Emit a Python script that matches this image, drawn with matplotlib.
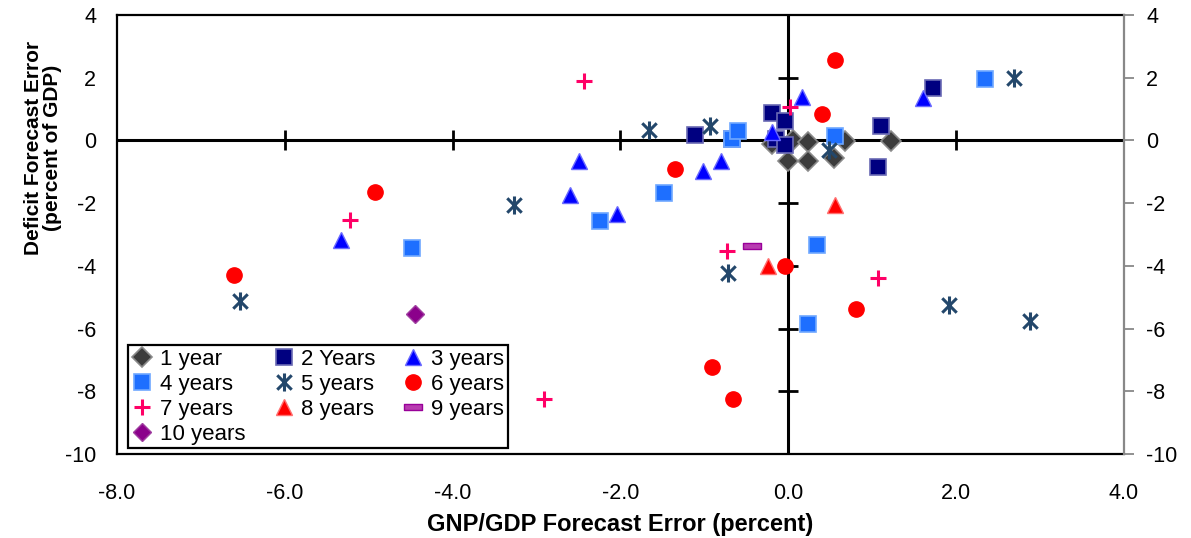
import matplotlib
matplotlib.use('Agg')
import matplotlib.pyplot as plt
from matplotlib.path import Path

plt.rcParams['font.family'] = ['Liberation Sans', 'DejaVu Sans']
plt.rcParams['axes.unicode_minus'] = False

# forecast errors: x = GNP/GDP error (percent), y = deficit error (percent of GDP)
y1_x = [-0.19, 0.06, 0.24, 0.0, 0.23, 0.54, 0.68, 1.22]
y1_y = [-0.10, 0.0, -0.05, -0.64, -0.67, -0.57, -0.03, -0.03]

y2_x = [-1.11, -0.67, -0.19, -0.04, -0.15, -0.04, 1.10, 1.07, 1.73]
y2_y = [0.17, 0.05, 0.86, 0.62, 0.05, -0.16, 0.45, -0.86, 1.66]

y3_x = [-5.33, -2.49, -2.60, -2.04, -1.02, -0.80, -0.19, 0.16, 1.60]
y3_y = [-3.19, -0.64, -1.75, -2.33, -0.99, -0.64, 0.26, 1.40, 1.34]

y4_x = [-4.48, -2.24, -1.48, -0.67, -0.60, 0.56, 0.34, 0.24, 2.35]
y4_y = [-3.44, -2.58, -1.69, 0.06, 0.30, 0.13, -3.34, -5.84, 1.95]

y5_x = [-6.53, -3.27, -1.66, -0.93, -0.72, 0.48, 1.92, 2.88, 2.69]
y5_y = [-5.13, -2.07, 0.32, 0.45, -4.24, -0.32, -5.26, -5.77, 2.00]

y6_x = [-6.60, -4.93, -1.35, 0.56, 0.40, -0.04, 0.81, -0.91, -0.66]
y6_y = [-4.30, -1.63, -0.92, 2.55, 0.83, -3.99, -5.36, -7.24, -8.23]

y7_x = [-2.44, -5.22, 0.02, -0.73, 1.07, -2.91]
y7_y = [1.88, -2.55, 1.08, -3.51, -4.40, -8.23]

y8_x = [-0.24, 0.56]
y8_y = [-4.02, -2.07]

y9_x = [-0.43]
y9_y = [-3.38]

y10_x = [-4.45]
y10_y = [-5.55]

labels = ['1 year', '2 Years', '3 years', '4 years', '5 years',
          '6 years', '7 years', '8 years', '9 years', '10 years']

x_ticks = [-8, -6, -4, -2, 0, 2, 4]
y_ticks = [4, 2, 0, -2, -4, -6, -8, -10]

# custom markers
star = Path([(0, -1), (0, 1), (-0.8, -0.8), (0.8, 0.8), (-0.8, 0.8), (0.8, -0.8)],
            [Path.MOVETO, Path.LINETO, Path.MOVETO, Path.LINETO, Path.MOVETO, Path.LINETO])
bar = Path([(-1, -0.3), (1, -0.3), (1, 0.3), (-1, 0.3), (-1, -0.3)],
           [Path.MOVETO, Path.LINETO, Path.LINETO, Path.LINETO, Path.CLOSEPOLY])

fig = plt.figure(figsize=(11.91, 5.38), dpi=100)
ax = fig.add_axes([0.0982, 0.1561, 0.8455, 0.816])
ax.set_xlim(-8, 4)
ax.set_ylim(-10, 4)

# axes through origin
ax.axhline(0, color='black', lw=2.2, zorder=1)
ax.axvline(0, color='black', lw=2.2, zorder=1)
ax.plot([-6, -4, -2, 2], [0, 0, 0, 0], ls='none', marker='|', ms=14, mew=2, color='black', zorder=1)
ax.plot([0] * 6, [2, -2, -4, -6, -8, 0], ls='none', marker='_', ms=14, mew=2, color='black', zorder=1)

h = []
h.append(ax.plot(y1_x, y1_y, ls='none', marker='D', ms=10, mfc='#3c3c3c', mec='#8a8a8a', mew=1.2)[0])
h.append(ax.plot(y2_x, y2_y, ls='none', marker='s', ms=11, mfc='#000080', mec='#6a6ab4', mew=1.2)[0])
h.append(ax.plot(y3_x, y3_y, ls='none', marker='^', ms=11, mfc='#0000ff', mec='#6a6aff', mew=1)[0])
h.append(ax.plot(y4_x, y4_y, ls='none', marker='s', ms=11, mfc='#1e6fff', mec='#6fa8ff', mew=1.2)[0])
h.append(ax.plot(y5_x, y5_y, ls='none', marker=star, ms=13, mfc='none', mec='#23476b', mew=2.2)[0])
h.append(ax.plot(y6_x, y6_y, ls='none', marker='o', ms=11, mfc='#ff0000', mec='#ff0000')[0])
h.append(ax.plot(y7_x, y7_y, ls='none', marker='+', ms=12, mec='#ff0066', mew=2.2)[0])
h.append(ax.plot(y8_x, y8_y, ls='none', marker='^', ms=11, mfc='#ff0000', mec='#ff7070', mew=1)[0])
h.append(ax.plot(y9_x, y9_y, ls='none', marker=bar, ms=13, mfc='#b83cb0', mec='#990099', mew=1)[0])
h.append(ax.plot(y10_x, y10_y, ls='none', marker='D', ms=9, mfc='#8b008b', mec='#a040a0', mew=1)[0])

# frame: black left/top/bottom, no ticks
for s in ['left', 'top', 'bottom']:
    ax.spines[s].set_color('black')
    ax.spines[s].set_linewidth(1.6)
ax.spines['right'].set_visible(False)
ax.set_xticks(x_ticks)
ax.set_xticklabels([f'{v:.1f}' for v in x_ticks])
ax.set_yticks(y_ticks)
ax.tick_params(axis='x', length=0, pad=21, labelsize=15.5)
ax.tick_params(axis='y', length=0, pad=15, labelsize=15.5)

# secondary gray axis on the right
ax2 = ax.twinx()
ax2.set_ylim(-10, 4)
ax2.set_yticks(y_ticks)
for s in ['left', 'top', 'bottom']:
    ax2.spines[s].set_visible(False)
ax2.spines['right'].set_color('#888888')
ax2.spines['right'].set_linewidth(1.6)
ax2.tick_params(axis='y', direction='out', length=7, width=1.3, color='#888888',
                pad=9, labelsize=15.5)

ax.set_xlabel('GNP/GDP Forecast Error (percent)', fontsize=17, fontweight='bold', labelpad=6)
ax.set_ylabel('Deficit Forecast Error\n(percent of GDP)', fontsize=15, fontweight='bold',
              linespacing=1.0)
ax.yaxis.set_label_coords(-0.055, 0.697)

order = [0, 3, 6, 9, 1, 4, 7, 2, 5, 8]
leg = ax.legend([h[i] for i in order], [labels[i] for i in order], ncol=3,
                loc='lower left', bbox_to_anchor=(0.011, 0.014), fontsize=16,
                frameon=True, fancybox=False, framealpha=1, edgecolor='black',
                borderpad=0.15, labelspacing=0.18, handlelength=1.0, handletextpad=0.3,
                columnspacing=1.2, borderaxespad=0)
leg.get_frame().set_linewidth(1.6)
leg.set_zorder(5)

fig.savefig('out.png', dpi=100)
